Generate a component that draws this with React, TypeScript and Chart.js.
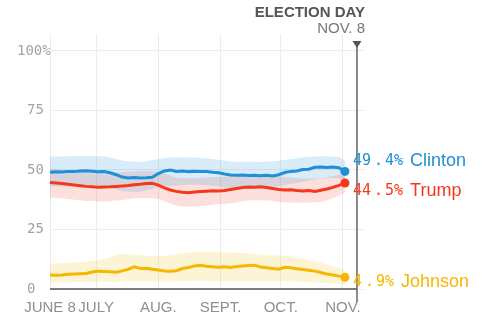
import React, { useEffect, useRef } from "react";
import { Chart, registerables } from "chart.js";

Chart.register(...registerables);

// Days since June 8, 2016
const days = [0, 3, 6, 9, 12, 15, 18, 21, 24, 27, 30, 33, 36, 39, 42, 45, 48, 51, 54, 57, 60, 63, 66, 69, 72, 75, 78, 81, 84, 87, 90, 93, 96, 99, 102, 105, 108, 111, 114, 117, 120, 123, 126, 129, 132, 135, 138, 141, 144, 147];

const clinton = [49.0, 49.2, 49.1, 49.4, 49.3, 49.6, 49.7, 49.5, 49.2, 49.3, 48.8, 48.0, 47.0, 46.6, 46.8, 46.6, 46.7, 46.9, 48.5, 49.6, 50.0, 49.4, 49.6, 49.3, 49.5, 49.4, 49.3, 49.0, 48.8, 48.3, 47.9, 47.8, 47.9, 47.7, 47.8, 47.6, 47.8, 47.5, 48.0, 48.9, 49.4, 49.6, 50.2, 50.3, 51.1, 51.2, 51.0, 51.2, 50.9, 49.4];
const trump = [44.7, 44.5, 44.3, 44.0, 43.7, 43.4, 43.1, 42.9, 42.7, 42.8, 42.9, 43.1, 43.3, 43.5, 43.8, 44.0, 44.3, 44.4, 43.6, 42.5, 41.6, 41.0, 40.6, 40.4, 40.7, 40.9, 41.1, 41.3, 41.2, 41.4, 41.8, 42.2, 42.6, 42.8, 42.7, 42.9, 42.6, 42.2, 41.8, 41.6, 41.7, 41.4, 41.2, 41.4, 41.0, 41.5, 42.0, 42.7, 43.5, 44.5];
const johnson = [5.9, 5.8, 5.9, 6.2, 6.3, 6.4, 6.5, 7.1, 7.5, 7.4, 7.2, 7.0, 7.6, 8.3, 9.3, 8.6, 8.7, 8.3, 8.0, 7.6, 7.5, 7.7, 8.6, 9.0, 9.7, 10.0, 9.6, 9.3, 9.1, 9.3, 9.0, 9.5, 9.7, 9.9, 10.0, 9.2, 8.9, 8.6, 8.3, 9.1, 8.9, 8.5, 8.2, 7.9, 7.5, 6.9, 6.3, 5.9, 5.4, 4.9];

// Uncertainty bands
const bandDays = [0, 9, 18, 27, 36, 45, 54, 63, 72, 81, 90, 99, 108, 117, 126, 135, 144, 147];
const clintonUpper = [55.6, 55.8, 55.9, 55.6, 54.0, 53.4, 54.6, 55.3, 55.2, 54.6, 53.6, 53.4, 53.4, 54.2, 55.2, 55.8, 55.3, 53.8];
const clintonLower = [43.0, 43.2, 43.5, 43.2, 41.2, 40.8, 42.6, 43.5, 43.8, 43.4, 42.4, 42.2, 42.4, 43.6, 45.0, 46.4, 46.5, 45.4];
const trumpUpper = [50.4, 49.8, 49.0, 48.6, 49.0, 49.6, 49.2, 46.8, 46.5, 47.0, 47.4, 48.2, 48.0, 47.0, 46.4, 46.6, 48.0, 48.6];
const trumpLower = [38.4, 37.8, 37.0, 36.8, 37.4, 38.2, 37.8, 35.0, 34.6, 35.4, 36.0, 37.2, 37.2, 36.4, 36.2, 36.6, 39.2, 40.4];
const johnsonUpper = [10.5, 11.0, 11.4, 12.6, 14.6, 14.2, 13.8, 14.6, 15.6, 15.6, 15.2, 15.0, 14.2, 14.0, 12.6, 11.0, 8.8, 7.8];
const johnsonLower = [2.6, 2.7, 2.9, 3.0, 3.2, 3.4, 3.2, 3.2, 3.5, 3.4, 3.3, 3.4, 3.3, 3.3, 3.0, 2.6, 2.2, 2.0];

const candidates = ["Clinton", "Trump", "Johnson"];
const finalShares = [49.4, 44.5, 4.9];

const xTickDays = [0, 23, 54, 85, 115, 146];
const xTickLabels = ["JUNE 8", "JULY", "AUG.", "SEPT.", "OCT.", "NOV."];
const yTicks = [0, 25, 50, 75, 100];
const electionDay = 153;
const headerTitle = "ELECTION DAY";
const headerDate = "NOV. 8";

const BLUE = "#1f8fd8";
const RED = "#f5371c";
const GOLD = "#f5b700";

const pts = (xs: number[], ys: number[]) => xs.map((x, i) => ({ x, y: ys[i] }));

export default function App() {
  const ref = useRef<HTMLCanvasElement | null>(null);

  useEffect(() => {
    const canvas = ref.current;
    if (!canvas) return;
    const lastIdx = days.length - 1;
    const line = (data: number[], color: string) => ({
      type: "line" as const,
      data: pts(days, data),
      borderColor: color,
      backgroundColor: color,
      borderWidth: 3,
      tension: 0,
      fill: false,
      pointRadius: (c: any) => (c.dataIndex === lastIdx ? 4.5 : 0),
      pointBorderWidth: 0,
      pointBackgroundColor: color,
      order: 0,
    });
    const band = (up: number[], lo: number[], color: string) => [
      {
        type: "line" as const,
        data: pts(bandDays, up),
        borderWidth: 0,
        borderColor: "rgba(0,0,0,0)",
        backgroundColor: color,
        pointRadius: 0,
        tension: 0.3,
        fill: "+1",
        order: 2,
      },
      {
        type: "line" as const,
        data: pts(bandDays, lo),
        borderWidth: 0,
        borderColor: "rgba(0,0,0,0)",
        backgroundColor: color,
        pointRadius: 0,
        tension: 0.3,
        fill: false,
        order: 2,
      },
    ];

    const overlay = {
      id: "overlay",
      afterDraw(chart: any) {
        const { ctx, chartArea, scales } = chart;
        const x = scales.x;
        const y = scales.y;
        ctx.save();
        // y labels
        ctx.fillStyle = "#a3a3a3";
        ctx.font = '14px "DejaVu Sans Mono"';
        ctx.textBaseline = "middle";
        yTicks.forEach((v) => {
          const py = y.getPixelForValue(v);
          ctx.textAlign = "left";
          if (v === 100) ctx.fillText(v + "%", 17, py);
          else ctx.fillText(String(v), 27, py);
        });
        // bottom axis line
        const ex = x.getPixelForValue(electionDay);
        ctx.strokeStyle = "#555";
        ctx.lineWidth = 1.5;
        ctx.beginPath();
        ctx.moveTo(chartArea.left, chartArea.bottom);
        ctx.lineTo(ex, chartArea.bottom);
        ctx.stroke();
        // election day line
        ctx.strokeStyle = "#666";
        ctx.lineWidth = 1.5;
        ctx.beginPath();
        ctx.moveTo(ex, 47);
        ctx.lineTo(ex, 302);
        ctx.stroke();
        ctx.fillStyle = "#555";
        ctx.beginPath();
        ctx.moveTo(ex - 4.5, 41);
        ctx.lineTo(ex + 4.5, 41);
        ctx.lineTo(ex, 48);
        ctx.closePath();
        ctx.fill();
        // header
        ctx.textAlign = "right";
        ctx.fillStyle = "#555";
        ctx.font = 'bold 15px "Liberation Sans"';
        ctx.fillText(headerTitle, chartArea.right, 13);
        ctx.fillStyle = "#777";
        ctx.font = '15px "Liberation Sans"';
        ctx.fillText(headerDate, chartArea.right, 29);
        // end labels
        const colors = [BLUE, RED, GOLD];
        const offsets = [-10.5, 8, 5];
        candidates.forEach((name, i) => {
          const py = y.getPixelForValue(finalShares[i]) + offsets[i];
          const [intPart, decPart] = finalShares[i].toFixed(1).split(".");
          ctx.fillStyle = colors[i];
          ctx.textAlign = "left";
          ctx.font = '15px "DejaVu Sans Mono"';
          let lx = x.getPixelForValue(days[lastIdx]) + 8;
          ctx.fillText(intPart, lx, py);
          lx += ctx.measureText(intPart).width + 3;
          ctx.fillText(".", lx, py);
          lx += ctx.measureText(".").width + 2;
          const tail = decPart + "%";
          ctx.fillText(tail, lx, py);
          lx += ctx.measureText(tail).width + 7;
          ctx.font = '18px "Liberation Sans"';
          ctx.fillText(name, lx, py);
        });
        ctx.restore();
      },
    };

    const chart = new Chart(canvas, {
      type: "line",
      data: {
        datasets: [
          line(clinton, BLUE),
          line(trump, RED),
          line(johnson, GOLD),
          ...band(clintonUpper, clintonLower, "rgba(40,150,220,0.18)"),
          ...band(trumpUpper, trumpLower, "rgba(245,60,30,0.16)"),
          ...band(johnsonUpper, johnsonLower, "rgba(245,185,0,0.16)"),
        ] as any,
      },
      options: {
        responsive: false,
        animation: false,
        devicePixelRatio: 1,
        layout: { padding: { top: 34, right: 117, left: 0, bottom: 0 } },
        plugins: {
          legend: { display: false },
          tooltip: { enabled: false },
          filler: { drawTime: "beforeDatasetsDraw" },
        } as any,
        scales: {
          x: {
            type: "linear",
            min: 0,
            max: 157,
            afterBuildTicks: (s: any) => {
              s.ticks = xTickDays.map((v) => ({ value: v }));
            },
            afterFit: (s: any) => {
              s.height = 32;
            },
            grid: { color: "#ececec", drawTicks: false, lineWidth: 1 },
            border: { display: false },
            ticks: {
              autoSkip: false,
              maxRotation: 0,
              padding: 10,
              color: "#8f8f8f",
              font: { family: "Liberation Sans", size: 15 },
              callback: (_v: any, i: number) => xTickLabels[i],
            },
          },
          y: {
            type: "linear",
            min: 0,
            max: 107.1,
            afterBuildTicks: (s: any) => {
              s.ticks = yTicks.map((v) => ({ value: v }));
            },
            afterFit: (s: any) => {
              s.width = 50;
            },
            grid: { color: "#ececec", drawTicks: false },
            border: { display: false },
            ticks: { display: false },
          },
        },
      },
      plugins: [overlay],
    });
    return () => chart.destroy();
  }, []);

  return (
    <div style={{ position: "absolute", left: 0, top: 0, width: 482, height: 321, background: "#fff" }}>
      <canvas ref={ref} width={482} height={321} />
    </div>
  );
}
